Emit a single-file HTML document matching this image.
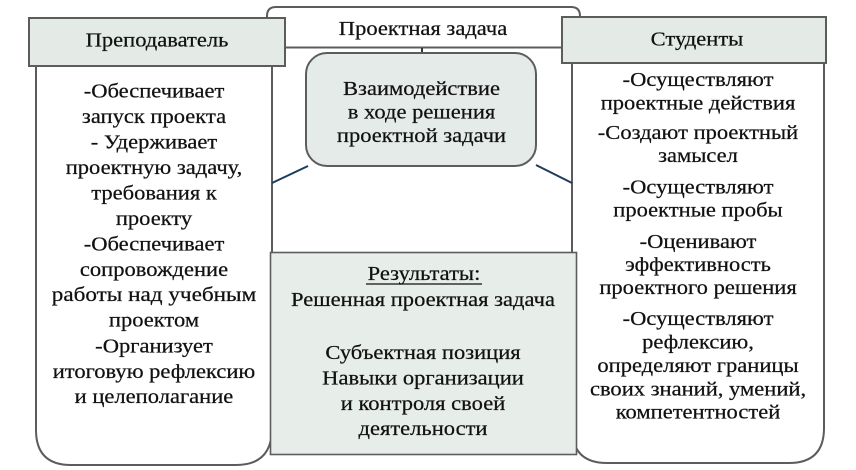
<!DOCTYPE html>
<html>
<head>
<meta charset="utf-8">
<style>
  html,body{margin:0;padding:0;background:#ffffff;}
  svg{display:block;}
  text{font-family:"Liberation Serif","Noto Serif CJK SC",serif;font-size:20.5px;fill:#111;stroke:#111;stroke-width:0.25px;}
</style>
</head>
<body>
<svg width="856" height="470" viewBox="0 0 856 470" xmlns="http://www.w3.org/2000/svg">
  <!-- task box -->
  <path d="M267,48 L267,16 Q267,7 276,7 L571,7 Q580,7 580,16 L580,48" fill="#ffffff" stroke="#5c5c5c" stroke-width="2"/>
  <line x1="285" y1="47.5" x2="562" y2="47.5" stroke="#5c5c5c" stroke-width="2"/>
  <line x1="422" y1="48" x2="422" y2="54" stroke="#333" stroke-width="2"/>

  <!-- left body -->
  <path d="M36,66 L36,430 Q36,465 71,465 L236,465 Q271,465 272,430 L272,66" fill="#ffffff" stroke="#5c5c5c" stroke-width="2"/>
  <!-- right body -->
  <path d="M572,63 L572,428 Q572,463 607,463 L789,463 Q824,463 824,428 L824,63" fill="#ffffff" stroke="#5c5c5c" stroke-width="2"/>

  <!-- headers -->
  <rect x="29" y="18" width="256" height="48" fill="#e4ebe7" stroke="#5c5c5c" stroke-width="2"/>
  <rect x="562" y="17" width="264" height="46" fill="#e4ebe7" stroke="#5c5c5c" stroke-width="2"/>

  <!-- center box -->
  <rect x="306" y="53" width="230" height="113" rx="21" ry="21" fill="#e5ebe8" stroke="#5c5c5c" stroke-width="2"/>

  <!-- diagonals -->
  <line x1="272" y1="183" x2="308" y2="166" stroke="#1d3b5c" stroke-width="2"/>
  <line x1="536" y1="165" x2="572" y2="183" stroke="#1d3b5c" stroke-width="2"/>

  <!-- results box -->
  <rect x="270.5" y="252.5" width="306" height="202" fill="#e7ede9" stroke="#5c5c5c" stroke-width="1.6"/>

  <g text-anchor="middle">
    <text transform="translate(157,46.5) scale(1.1,1)">Преподаватель</text>
    <text transform="translate(697,45.5) scale(1.1,1)">Студенты</text>
    <text transform="translate(423,35) scale(1.1,1)">Проектная задача</text>

    <!-- center -->
    <text transform="translate(421.5,95) scale(1.1,1)">Взаимодействие</text>
    <text transform="translate(421.5,118.5) scale(1.1,1)">в ходе решения</text>
    <text transform="translate(421.5,142) scale(1.1,1)">проектной задачи</text>

    <!-- left body -->
    <text transform="translate(154,97.5) scale(1.1,1)">-Обеспечивает</text>
    <text transform="translate(154,123) scale(1.1,1)">запуск проекта</text>
    <text transform="translate(154,148.5) scale(1.1,1)">- Удерживает</text>
    <text transform="translate(154,174) scale(1.1,1)">проектную задачу,</text>
    <text transform="translate(154,199.5) scale(1.1,1)">требования к</text>
    <text transform="translate(154,225) scale(1.1,1)">проекту</text>
    <text transform="translate(154,250.5) scale(1.1,1)">-Обеспечивает</text>
    <text transform="translate(154,276) scale(1.1,1)">сопровождение</text>
    <text transform="translate(154,301) scale(1.13,1)">работы над учебным</text>
    <text transform="translate(154,326.5) scale(1.1,1)">проектом</text>
    <text transform="translate(154,352.5) scale(1.1,1)">-Организует</text>
    <text transform="translate(154,378) scale(1.1,1)">итоговую рефлексию</text>
    <text transform="translate(154,403) scale(1.1,1)">и целеполагание</text>

    <!-- right body -->
    <text transform="translate(698,86) scale(1.1,1)">-Осуществляют</text>
    <text transform="translate(698,109.5) scale(1.1,1)">проектные действия</text>
    <text transform="translate(698,139) scale(1.1,1)">-Создают проектный</text>
    <text transform="translate(698,162) scale(1.1,1)">замысел</text>
    <text transform="translate(698,193.5) scale(1.1,1)">-Осуществляют</text>
    <text transform="translate(698,216.5) scale(1.1,1)">проектные пробы</text>
    <text transform="translate(698,248) scale(1.1,1)">-Оценивают</text>
    <text transform="translate(698,271) scale(1.1,1)">эффективность</text>
    <text transform="translate(698,294) scale(1.1,1)">проектного решения</text>
    <text transform="translate(698,325) scale(1.1,1)">-Осуществляют</text>
    <text transform="translate(698,348.5) scale(1.1,1)">рефлексию,</text>
    <text transform="translate(698,372) scale(1.1,1)">определяют границы</text>
    <text transform="translate(698,395.5) scale(1.1,1)">своих знаний, умений,</text>
    <text transform="translate(698,418.5) scale(1.1,1)">компетентностей</text>

    <!-- results -->
    <text transform="translate(424,280) scale(1.1,1)">Результаты:</text>
    <text transform="translate(423,306) scale(1.1,1)">Решенная проектная задача</text>
    <text transform="translate(423,359) scale(1.1,1)">Субъектная позиция</text>
    <text transform="translate(423,384.5) scale(1.1,1)">Навыки организации</text>
    <text transform="translate(423,410) scale(1.1,1)">и контроля своей</text>
    <text transform="translate(423,435) scale(1.1,1)">деятельности</text>
  </g>
  <line x1="366" y1="284" x2="482" y2="284" stroke="#111" stroke-width="1.3"/>
</svg>
</body>
</html>
